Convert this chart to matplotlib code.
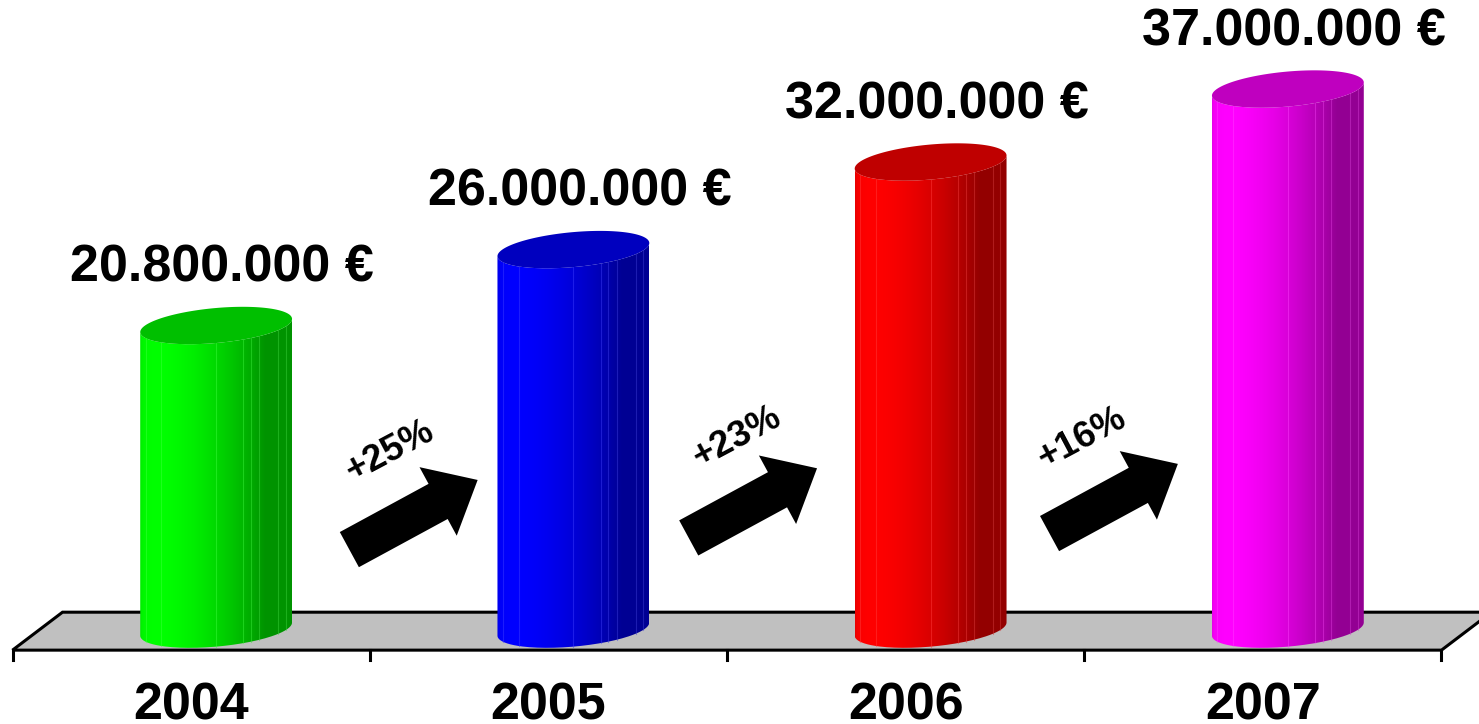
import numpy as np
import matplotlib
matplotlib.use("Agg")
import matplotlib.pyplot as plt
import matplotlib.transforms as mtransforms
from matplotlib.patches import Polygon, PathPatch
from matplotlib.path import Path

plt.rcParams["font.family"] = ["Liberation Sans", "DejaVu Sans"]
plt.rcParams["font.weight"] = "bold"

# revenue per year, in million euro
years = ["2004", "2005", "2006", "2007"]
revenue = [20.8, 26.0, 32.0, 37.0]
value_labels = ["20.800.000 €", "26.000.000 €", "32.000.000 €", "37.000.000 €"]
growth = ["+25%", "+23%", "+16%"]
bar_colors = ["#00ff00", "#0000ff", "#ff0000", "#ff00ff"]

# geometry of the fake 3d look (data units)
DEPTH_X, FLOOR_FRONT, FLOOR_BACK = 0.14, -1.44, 1.16
HALF_W, ELL_H, SHEAR = 0.2125, 1.2, 0.45
FACETS = [-0.93, -0.72, 0.0, 0.36, 0.46, 0.57, 0.82, 0.92]

fig = plt.figure(figsize=(14.79, 7.24), dpi=100)
ax = fig.add_axes([0, 0, 1, 1])
ax.set_axis_off()


def shade(u):
    """ brightness across the cylinder, light coming from front left """
    theta = np.arcsin(np.clip(u, -1, 1))
    return 0.58 + 0.42 * np.clip(np.cos(theta + np.radians(50)), 0, None)


def ellipse_pts(xc, yc, t):
    return np.column_stack([xc + HALF_W * np.cos(t),
                            yc + ELL_H * np.sin(t) + SHEAR * np.cos(t)])


def cylinder(xc, value, color):
    rgb = np.array(matplotlib.colors.to_rgb(color))
    # body outline: bottom front half, right side, top front half back to the left
    bottom = ellipse_pts(xc, 0, np.linspace(np.pi, 2 * np.pi, 80))
    top = ellipse_pts(xc, value, np.linspace(2 * np.pi, np.pi, 80))
    body = np.vstack([bottom, top])
    clip = PathPatch(Path(np.vstack([body, body[:1]])), fc="none", ec="none")
    ax.add_patch(clip)

    u = np.linspace(-1, 1, 300)
    grad = np.clip(rgb[None, :] * shade(u)[:, None], 0, 1)[None, :, :]
    im = ax.imshow(grad, extent=[xc - HALF_W, xc + HALF_W, -2, value + 2],
                   aspect="auto", interpolation="bilinear", zorder=2)
    im.set_clip_path(clip)

    for f in FACETS:
        x = xc + f * HALF_W
        y0 = -ELL_H * np.sqrt(1 - f * f) + SHEAR * f
        y1 = value - ELL_H * np.sqrt(1 - f * f) + SHEAR * f
        lc = np.clip(rgb * shade(f) + 0.25, 0, 1)
        ax.plot([x, x], [y0, y1], color=lc, lw=0.8, alpha=0.45, zorder=3)

    lid = ellipse_pts(xc, value, np.linspace(0, 2 * np.pi, 160))
    ax.add_patch(Polygon(lid, closed=True, fc=rgb * 0.75, ec="none", zorder=4))


# floor
ax.add_patch(Polygon([(-0.5, FLOOR_FRONT), (-0.5 + DEPTH_X, FLOOR_BACK),
                      (3.5 + DEPTH_X, FLOOR_BACK), (3.5, FLOOR_FRONT)],
                     closed=True, fc="#c0c0c0", ec="black", lw=2.2, zorder=1))
for i in range(len(years) + 1):
    ax.plot([i - 0.5, i - 0.5], [FLOOR_FRONT, FLOOR_FRONT - 0.7],
            color="black", lw=2.2, zorder=1)

for i, (val, col) in enumerate(zip(revenue, bar_colors)):
    xc = i + DEPTH_X / 2
    cylinder(xc, val, col)
    ax.text(xc + 0.017, val + 3.0, value_labels[i], ha="center", va="baseline",
            fontsize=37.5, fontweight="bold", zorder=5)
    ax.text(i, -6.2, years[i], ha="center", va="baseline",
            fontsize=37.5, fontweight="bold", zorder=5)

# growth arrows between the years
arrow_x = [0.62, 1.57, 2.58]
arrow_y = [7.8, 8.6, 8.9]
text_dx = [-23, -15, -31]
text_dy = [64, 66, 61]
shape = np.array([(-72, -20), (29, -20), (29, -39), (74, 0),
                  (29, 39), (29, 20), (-72, 20)])
for x, y, txt, dx, dy in zip(arrow_x, arrow_y, growth, text_dx, text_dy):
    tr = (mtransforms.Affine2D().rotate_deg(28.5)
          + mtransforms.ScaledTranslation(x, y, ax.transData))
    ax.add_patch(Polygon(shape, closed=True, fc="black", ec="none",
                         transform=tr, zorder=5))
    ttr = mtransforms.offset_copy(ax.transData, fig=fig, x=dx, y=dy, units="dots")
    ax.text(x, y, txt, transform=ttr, ha="center", va="center", rotation=28,
            rotation_mode="anchor", fontsize=26.5, fontweight="bold", zorder=5)

ax.set_xlim(-0.535, 3.605)
ax.set_ylim(-6.5, 43.1)

fig.savefig("out.png", dpi=100)
